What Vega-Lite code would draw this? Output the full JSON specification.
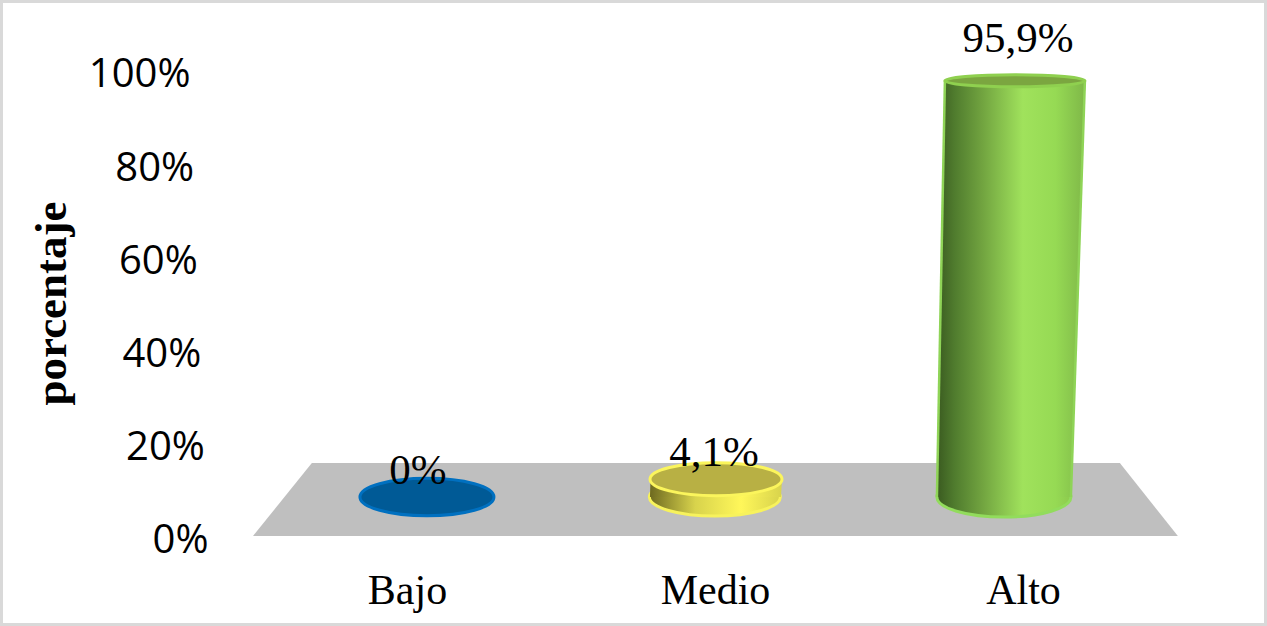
{
"$schema":"https://vega.github.io/schema/vega-lite/v6.json",
"width":1267,"height":626,"padding":0,"autosize":{"type":"none"},"background":"white",
"view":{"stroke":"#d9d9d9","strokeWidth":6,"fill":"white"},
"datasets":{
"tabla":[{"nivel":"Bajo","porcentaje":0,"etiqueta":"0%"},{"nivel":"Medio","porcentaje":4.1,"etiqueta":"4,1%"},{"nivel":"Alto","porcentaje":95.9,"etiqueta":"95,9%"}],
"ticks":[{"t":0},{"t":20},{"t":40},{"t":60},{"t":80},{"t":100}],
"suelo":[{"u":0.397,"p":-8.99,"p2":-8.99},{"u":0.601,"p":7.83,"p2":-8.99},{"u":3.402,"p":7.83,"p2":-8.99},{"u":3.603,"p":-8.99,"p2":-8.99}],
"cilindro":[
{"nivel":"Medio","pct":0,"izq":1.773,"der":2.227,"centro":1.998,"parte":"base"},
{"nivel":"Medio","pct":4.1,"izq":1.775,"der":2.231,"centro":2.002,"parte":"tapa"},
{"nivel":"Alto","pct":0,"izq":2.7678,"der":3.2322,"centro":3.0,"parte":"base"},
{"nivel":"Alto","pct":95.9,"izq":2.7955,"der":3.2808,"centro":3.0381,"parte":"tapa"},
{"nivel":"Bajo","pct":0,"izq":0.767,"der":1.233,"centro":1.0,"parte":"base"}
]},
"data":{"name":"cilindro"},
"resolve":{"scale":{"x":"independent","y":"independent"}},
"layer":[
{"data":{"name":"suelo"},"mark":{"type":"area","orient":"vertical","fill":"#bfbfbf","line":false},
 "encoding":{"x":{"field":"u","type":"quantitative","scale":{"domain":[-0.48,3.912],"range":[0,1267],"nice":false,"zero":false},"axis":null},
 "y":{"field":"p","type":"quantitative","scale":{"domain":[-29.72,114.52],"nice":false,"zero":false},"axis":null},"y2":{"field":"p2"}}},
{"transform":[{"filter":"datum.nivel=='Bajo'"}],
 "mark":{"type":"point","filled":true,"fill":"#005a96","stroke":"#0070c0","strokeWidth":3,"opacity":1,"size":17956,"shape":"M-1,0C-1,-0.155,-0.5523,-0.28,0,-0.28C0.5523,-0.28,1,-0.155,1,0C1,0.155,0.5523,0.28,0,0.28C-0.5523,0.28,-1,0.155,-1,0Z"},
 "encoding":{"x":{"field":"centro","type":"quantitative","scale":{"domain":[-0.48,3.912],"nice":false,"zero":false},"axis":null},
 "y":{"field":"pct","type":"quantitative","scale":{"domain":[-29.72,114.52],"nice":false,"zero":false},"axis":null}}},
{"transform":[{"filter":"datum.nivel=='Medio' && datum.parte=='base'"}],
 "mark":{"type":"point","filled":true,"opacity":1,"stroke":"#f7f25c","strokeWidth":3,"size":17161,"shape":"M-1,0C-1,-0.16,-0.5523,-0.29,0,-0.29C0.5523,-0.29,1,-0.16,1,0C1,0.16,0.5523,0.29,0,0.29C-0.5523,0.29,-1,0.16,-1,0Z",
 "fill":{"gradient":"linear","x1":0,"x2":1,"y1":0,"y2":0,"stops":[{"offset":0,"color":"#6e6a20"},{"offset":0.35,"color":"#d8d34c"},{"offset":0.7,"color":"#fff75a"},{"offset":1,"color":"#d8d34c"}]}},
 "encoding":{"x":{"field":"centro","type":"quantitative","scale":{"domain":[-0.48,3.912],"nice":false,"zero":false},"axis":null},
 "y":{"field":"pct","type":"quantitative","scale":{"domain":[-29.72,114.52],"nice":false,"zero":false},"axis":null}}},
{"transform":[{"filter":"datum.nivel=='Medio'"}],
 "mark":{"type":"area","orient":"horizontal","line":false,"fill":{"gradient":"linear","x1":0,"x2":1,"y1":0,"y2":0,"stops":[{"offset":0,"color":"#6e6a20"},{"offset":0.35,"color":"#d8d34c"},{"offset":0.7,"color":"#fff75a"},{"offset":1,"color":"#d8d34c"}]}},
 "encoding":{"x":{"field":"izq","type":"quantitative","scale":{"domain":[-0.48,3.912],"nice":false,"zero":false},"axis":null},"x2":{"field":"der"},
 "y":{"field":"pct","type":"quantitative","scale":{"domain":[-29.72,114.52],"nice":false,"zero":false},"axis":null}}},
{"transform":[{"filter":"datum.nivel=='Medio' && datum.parte=='tapa'"}],
 "mark":{"type":"point","filled":true,"fill":"#b8b044","opacity":1,"stroke":"#fbf55c","strokeWidth":3,"size":17424,"shape":"M-1,0C-1,-0.138,-0.5523,-0.25,0,-0.25C0.5523,-0.25,1,-0.138,1,0C1,0.138,0.5523,0.25,0,0.25C-0.5523,0.25,-1,0.138,-1,0Z"},
 "encoding":{"x":{"field":"centro","type":"quantitative","scale":{"domain":[-0.48,3.912],"nice":false,"zero":false},"axis":null},
 "y":{"field":"pct","type":"quantitative","scale":{"domain":[-29.72,114.52],"nice":false,"zero":false},"axis":null}}},
{"transform":[{"filter":"datum.nivel=='Alto' && datum.parte=='base'"}],
 "mark":{"type":"point","filled":true,"opacity":1,"stroke":"#92dc5c","strokeWidth":3,"size":17956,"shape":"M-1,0C-1,-0.1657,-0.5523,-0.3,0,-0.3C0.5523,-0.3,1,-0.1657,1,0C1,0.1657,0.5523,0.3,0,0.3C-0.5523,0.3,-1,0.1657,-1,0Z",
 "fill":{"gradient":"linear","x1":0,"x2":1,"y1":0,"y2":0,"stops":[{"offset":0,"color":"#3a5a20"},{"offset":0.133,"color":"#507c2e"},{"offset":0.33,"color":"#70a23f"},{"offset":0.64,"color":"#a0e25c"},{"offset":0.884,"color":"#96da54"},{"offset":1,"color":"#8dca4e"}]}},
 "encoding":{"x":{"field":"centro","type":"quantitative","scale":{"domain":[-0.48,3.912],"nice":false,"zero":false},"axis":null},
 "y":{"field":"pct","type":"quantitative","scale":{"domain":[-29.72,114.52],"nice":false,"zero":false},"axis":null}}},
{"transform":[{"filter":"datum.nivel=='Alto'"}],
 "mark":{"type":"area","orient":"horizontal","line":false,"fill":{"gradient":"linear","x1":0,"x2":1,"y1":0,"y2":0,"stops":[{"offset":0,"color":"#3a5a20"},{"offset":0.12,"color":"#507c2e"},{"offset":0.3,"color":"#70a23f"},{"offset":0.58,"color":"#a0e25c"},{"offset":0.8,"color":"#96da54"},{"offset":1,"color":"#7fb848"}]}},
 "encoding":{"x":{"field":"izq","type":"quantitative","scale":{"domain":[-0.48,3.912],"nice":false,"zero":false},"axis":null},"x2":{"field":"der"},
 "y":{"field":"pct","type":"quantitative","scale":{"domain":[-29.72,114.52],"nice":false,"zero":false},"axis":null}}},
{"transform":[{"filter":"datum.nivel=='Alto'"}],
 "mark":{"type":"line","stroke":"#8fd457","strokeWidth":2.5},
 "encoding":{"x":{"field":"izq","type":"quantitative","scale":{"domain":[-0.48,3.912],"nice":false,"zero":false},"axis":null},
 "y":{"field":"pct","type":"quantitative","scale":{"domain":[-29.72,114.52],"nice":false,"zero":false},"axis":null}}},
{"transform":[{"filter":"datum.nivel=='Alto'"}],
 "mark":{"type":"line","stroke":"#8fd457","strokeWidth":2.5},
 "encoding":{"x":{"field":"der","type":"quantitative","scale":{"domain":[-0.48,3.912],"nice":false,"zero":false},"axis":null},
 "y":{"field":"pct","type":"quantitative","scale":{"domain":[-29.72,114.52],"nice":false,"zero":false},"axis":null}}},
{"transform":[{"filter":"datum.nivel=='Alto' && datum.parte=='tapa'"}],
 "mark":{"type":"point","filled":true,"fill":"#7ba640","opacity":1,"stroke":"#8fd04f","strokeWidth":3,"size":19600,"shape":"M-1,0C-1,-0.0475,-0.5523,-0.086,0,-0.086C0.5523,-0.086,1,-0.0475,1,0C1,0.0475,0.5523,0.086,0,0.086C-0.5523,0.086,-1,0.0475,-1,0Z"},
 "encoding":{"x":{"field":"centro","type":"quantitative","scale":{"domain":[-0.48,3.912],"nice":false,"zero":false},"axis":null},
 "y":{"field":"pct","type":"quantitative","scale":{"domain":[-29.72,114.52],"nice":false,"zero":false},"axis":null}}},
{"data":{"name":"tabla"},"mark":{"type":"text","font":"Liberation Serif","fontSize":43,"color":"#000000","baseline":"middle","align":"center"},
 "encoding":{"text":{"field":"etiqueta"},
 "x":{"field":"porcentaje","type":"quantitative","scale":{"domain":[0,4.1,95.9],"range":[418,714,1018],"nice":false,"zero":false},"axis":null},
 "y":{"field":"porcentaje","type":"quantitative","scale":{"domain":[0,95.9],"range":[471,39],"nice":false,"zero":false},"axis":null}}},
{"data":{"name":"tabla"},"mark":{"type":"point","opacity":0,"size":1},
 "encoding":{"x":{"field":"nivel","type":"nominal","sort":["Bajo","Medio","Alto"],"scale":{"type":"point","range":[407,1023],"padding":0},
  "axis":{"orient":"bottom","offset":-56,"title":null,"domain":false,"ticks":false,"labelAngle":0,"labelPadding":0,"labelFont":"Liberation Serif","labelFontSize":42,"labelColor":"#000000","labelBaseline":"top"}},
 "y":{"field":"porcentaje","type":"quantitative","scale":{"domain":[0,100]},"axis":null}}},
{"data":{"name":"ticks"},"mark":{"type":"point","opacity":0,"size":1},
 "encoding":{"x":{"field":"t","type":"quantitative","axis":null},
 "y":{"field":"t","type":"quantitative","scale":{"domain":[-18.9,115.45],"nice":false,"zero":false},
  "axis":{"orient":"left","offset":-208,"values":[0,20,40,60,80,100],"grid":false,"domain":false,"ticks":false,"labelExpr":"datum.value+'%'","labelPadding":{"expr":"datum.value*0.18"},"labelOffset":3,"labelFont":"Open Sans","labelFontSize":40,"labelColor":"#000000","labelFlush":false,"labelOverlap":false,
  "title":"porcentaje","titleFont":"Liberation Serif","titleFontWeight":"bold","titleFontSize":45,"titleColor":"#000000","titleX":-134,"titleY":303,"titleAnchor":"middle"}}}}
]
}
